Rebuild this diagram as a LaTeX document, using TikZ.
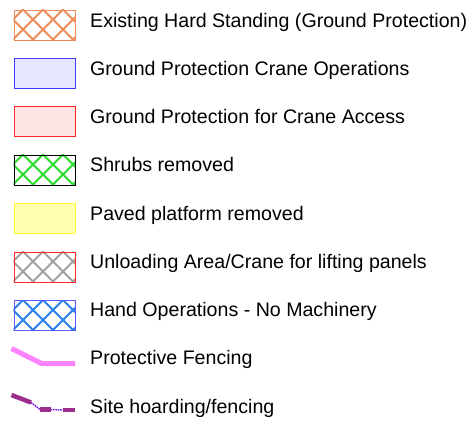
\documentclass[tikz,border=0pt]{standalone}
\usepackage{fontspec}
\setmainfont{Liberation Sans}
\definecolor{hsorange}{RGB}{238,140,88}
\definecolor{gpblue}{RGB}{60,60,255}
\definecolor{gpfill}{RGB}{230,230,255}
\definecolor{gcred}{RGB}{255,40,40}
\definecolor{gcfill}{RGB}{255,228,228}
\definecolor{shgreen}{RGB}{40,220,40}
\definecolor{pvyellow}{RGB}{255,255,50}
\definecolor{pvfill}{RGB}{255,255,175}
\definecolor{ulgray}{RGB}{160,160,160}
\definecolor{hoblue}{RGB}{90,90,255}
\definecolor{hohatch}{RGB}{40,130,235}
\definecolor{pfpink}{RGB}{255,130,255}
\definecolor{shpurple}{RGB}{155,45,140}
\definecolor{shthin}{RGB}{120,35,230}
\newcommand\hatchfill[2]{% #1 = top y, #2 = colour
  \begin{scope}
    \clip (13.5,#1) rectangle (75,#1+30);
    \foreach \k in {-3,...,5} {
      \draw[#2, line width=2pt] (\k*20+3,#1) -- ++(32,32);
      \draw[#2, line width=2pt] (\k*20+3,#1) -- ++(-32,32);
    }
  \end{scope}}
\begin{document}
\begin{tikzpicture}[x=1pt,y=-1pt,
  lab/.style={anchor=base west, inner sep=0pt, font=\fontsize{19.6pt}{22pt}\selectfont},
  keybox/.style={draw, line width=1.3pt, anchor=north west, minimum width=61.5pt, minimum height=30pt, inner sep=0pt},
  fenceline/.style={pfpink, line width=5pt},
  hoardthick/.style={shpurple, line width=4.5pt},
  hoardthin/.style={shthin, line width=1.5pt, dash pattern=on 1.6pt off 0.8pt}]
\useasboundingbox (0,0) rectangle (475,424);
\fill[white] (0,0) rectangle (475,424);
% row 1
\hatchfill{9.5}{hsorange}
\node[keybox, draw=hsorange] (b1) at (13.5,9.5) {};
\node[lab] (t1) at (90,27) {Existing Hard Standing (Ground Protection)};
% row 2
\node[keybox, draw=gpblue, fill=gpfill] (b2) at (13.5,57.5) {};
\node[lab] (t2) at (90,75.25) {Ground Protection Crane Operations};
% row 3
\node[keybox, draw=gcred, fill=gcfill] (b3) at (13.5,106) {};
\node[lab] (t3) at (90,123.5) {Ground Protection for Crane Access};
% row 4
\hatchfill{154.5}{shgreen}
\node[keybox, draw=black] (b4) at (13.5,154.5) {};
\node[lab] (t4) at (90,171.75) {Shrubs removed};
% row 5
\node[keybox, draw=pvyellow, fill=pvfill] (b5) at (13.5,203) {};
\node[lab] (t5) at (90,220) {Paved platform removed};
% row 6
\hatchfill{251.5}{ulgray}
\node[keybox, draw=gcred] (b6) at (13.5,251.5) {};
\node[lab] (t6) at (90,268.25) {Unloading Area/Crane for lifting panels};
% row 7
\hatchfill{300}{hohatch}
\node[keybox, draw=hoblue] (b7) at (13.5,300) {};
\node[lab] (t7) at (90,316.5) {Hand Operations - No Machinery};
% row 8: protective fencing
\coordinate (f1) at (11.5,348.5);
\coordinate (f2) at (41.5,363.5);
\coordinate (f3) at (75,363.5);
\draw[fenceline] (f1) -- (f2) -- (f3);
\node[lab] (t8) at (90,364.75) {Protective Fencing};
% row 9: site hoarding
\coordinate (h1) at (11.5,395);
\coordinate (h2) at (31,402.5);
\coordinate (h3) at (40,409.5);
\coordinate (h4) at (50.5,409.5);
\coordinate (h5) at (62.5,410);
\coordinate (h6) at (74.5,410);
\draw[hoardthin] (h2) -- (h3);
\draw[hoardthin] (h4) -- (h5);
\draw[hoardthick] (h1) -- (h2);
\draw[hoardthick] (h3) -- (h4);
\draw[hoardthick] (h5) -- (h6);
\node[lab] (t9) at (90,413) {Site hoarding/fencing};
\end{tikzpicture}
\end{document}
